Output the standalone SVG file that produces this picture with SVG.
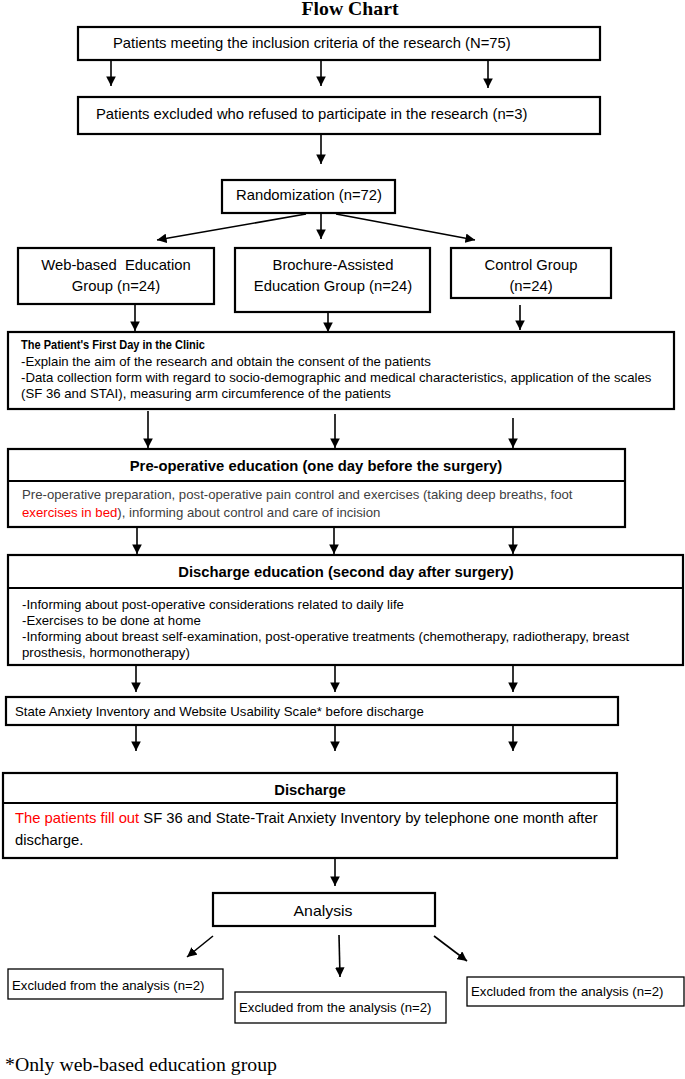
<svg xmlns="http://www.w3.org/2000/svg" width="685" height="1079" viewBox="0 0 685 1079">
<defs>
<marker id="ah" viewBox="0 0 10 10" refX="10" refY="5" markerWidth="6" markerHeight="6" orient="auto" markerUnits="strokeWidth">
<path d="M0,0 L10,5 L0,10 z" fill="#000"/>
</marker>
<style>
.box{fill:#fff;stroke:#000;stroke-width:2.2}
.thin{fill:#fff;stroke:#000;stroke-width:1.3}
.div{stroke:#000;stroke-width:2}
.t{font-family:"Liberation Sans",Arial,sans-serif;font-size:14.8px;fill:#000}
.s{font-family:"Liberation Sans",Arial,sans-serif;font-size:13.2px;fill:#000}
.g{font-family:"Liberation Sans",Arial,sans-serif;font-size:13.2px;fill:#404040}
.b{font-family:"Liberation Sans",Arial,sans-serif;font-size:14.8px;font-weight:bold;fill:#000}
.red{fill:#ff0000}
.c line{stroke:#000;stroke-width:1.6;marker-end:url(#ah)}
</style>
</defs>
<rect width="685" height="1079" fill="#fff"/>
<text x="350" y="15" text-anchor="middle" font-family="Liberation Serif,serif" font-weight="bold" font-size="19" textLength="97" lengthAdjust="spacingAndGlyphs">Flow Chart</text>

<g id="n1"><rect class="box" x="78" y="27" width="522" height="33"/><text class="t" x="113" y="48">Patients meeting the inclusion criteria of the research (N=75)</text></g>
<g id="n2"><rect class="box" x="78" y="97" width="522" height="37"/><text class="t" x="96" y="119">Patients excluded who refused to participate in the research (n=3)</text></g>
<g id="n3"><rect class="box" x="222" y="180" width="173" height="33"/><text class="t" x="236" y="200">Randomization (n=72)</text></g>
<g id="n4"><rect class="box" x="18" y="248" width="196" height="56"/><text class="t" x="116" y="270" text-anchor="middle">Web-based&#160; Education</text><text class="t" x="116" y="291" text-anchor="middle">Group (n=24)</text></g>
<g id="n5"><rect class="box" x="235" y="248" width="195" height="64"/><text class="t" x="333" y="270" text-anchor="middle">Brochure-Assisted</text><text class="t" x="333" y="291" text-anchor="middle">Education Group (n=24)</text></g>
<g id="n6"><rect class="box" x="451" y="248" width="160" height="50"/><text class="t" x="531" y="270" text-anchor="middle">Control Group</text><text class="t" x="531" y="291" text-anchor="middle">(n=24)</text></g>
<g id="n7"><rect class="box" x="8" y="332" width="666" height="77"/>
<text class="s" x="21" y="349" font-weight="bold" textLength="184" lengthAdjust="spacingAndGlyphs">The Patient's First Day in the Clinic</text>
<text class="s" x="21" y="366">-Explain the aim of the research and obtain the consent of the patients</text>
<text class="s" x="21" y="382">-Data collection form with regard to socio-demographic and medical characteristics, application of the scales</text>
<text class="s" x="21" y="398">(SF 36 and STAI), measuring arm circumference of the patients</text></g>
<g id="n8"><rect class="box" x="8" y="449" width="617" height="78"/><line class="div" x1="8" y1="481" x2="625" y2="481"/>
<text class="b" x="316" y="471" text-anchor="middle">Pre-operative education (one day before the surgery)</text>
<text class="g" x="22" y="499">Pre-operative preparation, post-operative pain control and exercises (taking deep breaths, foot</text>
<text class="g" x="22" y="517"><tspan class="red">exercises in bed</tspan>), informing about control and care of incision</text></g>
<g id="n9"><rect class="box" x="8" y="555" width="675" height="110"/><line class="div" x1="8" y1="588" x2="683" y2="588"/>
<text class="b" x="346" y="577" text-anchor="middle">Discharge education (second day after surgery)</text>
<text class="s" x="22" y="609">-Informing about post-operative considerations related to daily life</text>
<text class="s" x="22" y="625">-Exercises to be done at home</text>
<text class="s" x="22" y="641">-Informing about breast self-examination, post-operative treatments (chemotherapy, radiotherapy, breast</text>
<text class="s" x="22" y="657">prosthesis, hormonotherapy)</text></g>
<g id="n10"><rect class="box" x="6" y="697" width="612" height="28"/><text class="s" x="15" y="716">State Anxiety Inventory and Website Usability Scale* before discharge</text></g>
<g id="n11"><rect class="box" x="3" y="773" width="614" height="85"/><line class="div" x1="3" y1="803" x2="617" y2="803"/>
<text class="b" x="310" y="795" text-anchor="middle">Discharge</text>
<text class="t" x="15" y="823"><tspan class="red">The patients fill out</tspan> SF 36 and State-Trait Anxiety Inventory by telephone one month after</text>
<text class="t" x="15" y="845">discharge.</text></g>
<g id="n12"><rect class="box" x="213" y="893" width="222" height="33"/><text class="t" x="323" y="916" text-anchor="middle" font-size="17" textLength="59" lengthAdjust="spacingAndGlyphs">Analysis</text></g>
<g id="n13"><rect class="thin" x="8" y="969" width="215" height="30"/><text class="s" x="12" y="990">Excluded from the analysis (n=2)</text></g>
<g id="n14"><rect class="thin" x="235" y="992" width="211" height="31"/><text class="s" x="239" y="1012">Excluded from the analysis (n=2)</text></g>
<g id="n15"><rect class="thin" x="467" y="977" width="217" height="29"/><text class="s" x="471" y="996">Excluded from the analysis (n=2)</text></g>
<text x="5" y="1071" font-family="Liberation Serif,serif" font-size="19.5" textLength="272" lengthAdjust="spacingAndGlyphs">*Only web-based education group</text>

<g id="connectors" class="c">
<line x1="111" y1="61" x2="111" y2="86"/>
<line x1="321" y1="61" x2="321" y2="86"/>
<line x1="488" y1="61" x2="488" y2="88"/>
<line x1="321" y1="135" x2="321" y2="164"/>
<line x1="306" y1="214" x2="157" y2="240"/>
<line x1="321" y1="214" x2="321" y2="239"/>
<line x1="336" y1="214" x2="475" y2="240"/>
<line x1="135" y1="305" x2="135" y2="331"/>
<line x1="328" y1="313" x2="328" y2="332"/>
<line x1="520" y1="305" x2="520" y2="330"/>
<line x1="148" y1="411" x2="148" y2="448"/>
<line x1="335" y1="414" x2="335" y2="448"/>
<line x1="513" y1="418" x2="513" y2="448"/>
<line x1="137" y1="528" x2="137" y2="554"/>
<line x1="334" y1="528" x2="334" y2="554"/>
<line x1="513" y1="528" x2="513" y2="554"/>
<line x1="136" y1="666" x2="136" y2="692"/>
<line x1="335" y1="666" x2="335" y2="692"/>
<line x1="513" y1="666" x2="513" y2="692"/>
<line x1="136" y1="726" x2="136" y2="751"/>
<line x1="335" y1="726" x2="335" y2="751"/>
<line x1="513" y1="726" x2="513" y2="751"/>
<line x1="335" y1="859" x2="335" y2="886"/>
<line x1="213" y1="936" x2="187" y2="957"/>
<line x1="339" y1="935" x2="340" y2="977"/>
<line x1="434" y1="936" x2="467" y2="961"/>
</g>
</svg>
